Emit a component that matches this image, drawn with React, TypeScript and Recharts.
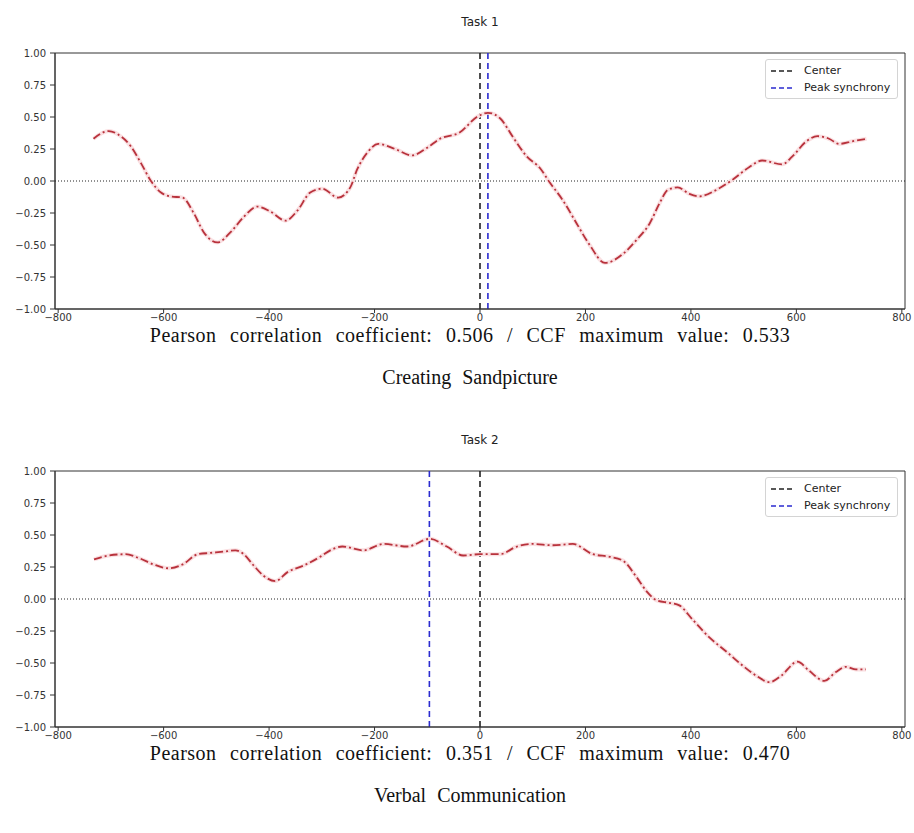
import {
  LineChart,
  Line,
  XAxis,
  YAxis,
  ReferenceLine,
  ReferenceArea,
} from "recharts";

// lag values (frames) and cross-correlation
const lags1 = [
  -733, -704, -685, -662, -643, -624, -605, -587, -564, -543, -524, -498, -473, -448, -422, -397,
  -369, -346, -322, -299, -269, -246, -233, -214, -193, -161, -129, -100, -76, -38, -6, 15, 38, 63,
  89, 114, 132, 157, 183, 208, 237, 271, 297, 322, 341, 356, 375, 397, 416, 448, 479, 511, 535,
  573, 592, 619, 640, 662, 681, 706, 733,
];
const corr1 = [
  0.33, 0.39, 0.36, 0.27, 0.14, 0.0, -0.09, -0.12, -0.13, -0.25, -0.4, -0.48, -0.4, -0.28, -0.2,
  -0.24, -0.31, -0.23, -0.09, -0.06, -0.13, -0.05, 0.09, 0.22, 0.29, 0.25, 0.2, 0.26, 0.33, 0.38,
  0.5, 0.533, 0.49, 0.34, 0.19, 0.1, -0.01, -0.15, -0.33, -0.5, -0.64, -0.57, -0.46, -0.33, -0.17,
  -0.07, -0.05, -0.1, -0.12, -0.07, 0.01, 0.11, 0.16, 0.13, 0.19, 0.31, 0.35, 0.33, 0.29, 0.31,
  0.33,
];

const lags2 = [
  -732, -704, -672, -647, -619, -590, -564, -535, -511, -486, -464, -448, -429, -410, -388, -365,
  -335, -303, -284, -261, -221, -183, -138, -95, -63, -32, 0, 38, 70, 100, 138, 176, 214, 246, 271,
  297, 316, 335, 359, 378, 403, 435, 467, 498, 524, 549, 571, 602, 624, 653, 675, 694, 713, 732,
];
const corr2 = [
  0.31, 0.34, 0.35, 0.32, 0.27, 0.24, 0.27, 0.35, 0.36, 0.37, 0.38, 0.35, 0.26, 0.18, 0.14, 0.21,
  0.26, 0.33, 0.38, 0.41, 0.38, 0.43, 0.41, 0.47, 0.41, 0.34, 0.35, 0.35, 0.41, 0.43, 0.42, 0.43,
  0.35, 0.33, 0.3, 0.17, 0.06, -0.01, -0.03, -0.05, -0.16, -0.3, -0.41, -0.52, -0.6, -0.65, -0.6,
  -0.49, -0.56, -0.64, -0.57, -0.53, -0.55, -0.55,
];

const xTicks = [-800, -600, -400, -200, 0, 200, 400, 600, 800];
const yTicks = [-1, -0.75, -0.5, -0.25, 0, 0.25, 0.5, 0.75, 1];

const legendItems = [
  { label: "Center", color: "#222222" },
  { label: "Peak synchrony", color: "#2b2bd0" },
];

const fmt = (v: number, digits: number) => {
  const s = Math.abs(v).toFixed(digits);
  return v < 0 ? `\u2212${s}` : s;
};

const sans = "'DejaVu Sans', sans-serif";
const serif = "'Liberation Serif', 'Times New Roman', serif";

const LegendBox = () => (
  <div
    style={{
      position: "absolute",
      left: 765,
      top: 59,
      width: 133,
      boxSizing: "border-box",
      border: "1px solid #d4d4d4",
      borderRadius: 3,
      background: "#fff",
      padding: "2px 0 2px 4px",
      fontFamily: sans,
      fontSize: 11,
      color: "#222",
      lineHeight: "17px",
    }}
  >
    {legendItems.map((it) => (
      <div key={it.label} style={{ display: "flex", alignItems: "center" }}>
        <svg width={26} height={6} style={{ marginRight: 8 }}>
          <line x1={1} y1={3} x2={25} y2={3} stroke={it.color} strokeWidth={1.6} strokeDasharray="5 3" />
        </svg>
        {it.label}
      </div>
    ))}
  </div>
);

interface PanelProps {
  top: number;
  title: string;
  lags: number[];
  values: number[];
  peak: number;
  caption: string;
  task: string;
}

const Panel = ({ top, title, lags, values, peak, caption, task }: PanelProps) => {
  const data = lags.map((lag, i) => ({ lag, r: values[i] }));
  return (
    <div style={{ position: "absolute", left: 0, top, width: 914, height: 415 }}>
      <div
        style={{
          position: "absolute",
          left: 480,
          top: 15,
          transform: "translateX(-50%)",
          fontFamily: sans,
          fontSize: 12,
          color: "#222",
          whiteSpace: "nowrap",
        }}
      >
        {title}
      </div>
      <LineChart width={914} height={340} data={data} margin={{ top: 53, right: 9, bottom: 1, left: 10 }}>
        <XAxis
          dataKey="lag"
          type="number"
          domain={[-806, 806]}
          ticks={xTicks}
          tickFormatter={(v: number) => fmt(v, 0)}
          tickSize={4}
          tickMargin={1}
          height={30}
          stroke="#333"
          tick={{ fill: "#333", fontSize: 10, fontFamily: sans }}
          allowDataOverflow
        />
        <YAxis
          type="number"
          domain={[-1, 1]}
          ticks={yTicks}
          tickFormatter={(v: number) => fmt(v, 2)}
          tickSize={5}
          tickMargin={4}
          width={45}
          stroke="#333"
          tick={{ fill: "#333", fontSize: 10, fontFamily: sans }}
          allowDataOverflow
        />
        <ReferenceArea x1={-806} x2={806} y1={-1} y2={1} fill="none" stroke="#333" strokeWidth={1} />
        <ReferenceLine y={0} stroke="#222" strokeWidth={1} strokeDasharray="1 2" />
        <ReferenceLine x={0} stroke="#222" strokeWidth={1.6} strokeDasharray="6 4" />
        <ReferenceLine x={peak} stroke="#2b2bd0" strokeWidth={1.6} strokeDasharray="6 4" />
        <Line
          type="monotone"
          dataKey="r"
          stroke="#fae0e2"
          strokeWidth={4}
          dot={false}
          activeDot={false}
          isAnimationActive={false}
        />
        <Line
          type="monotone"
          dataKey="r"
          stroke="#b8323c"
          strokeWidth={1.8}
          strokeDasharray="8 3 2 3"
          dot={false}
          activeDot={false}
          isAnimationActive={false}
        />
      </LineChart>
      <LegendBox />
      <div
        style={{
          position: "absolute",
          left: 470,
          top: 326,
          transform: "translateX(-50%)",
          fontFamily: serif,
          fontSize: 20,
          lineHeight: "18px",
          wordSpacing: 8,
          letterSpacing: 0.5,
          color: "#111",
          whiteSpace: "nowrap",
        }}
      >
        {caption}
      </div>
      <div
        style={{
          position: "absolute",
          left: 470,
          top: 368,
          transform: "translateX(-50%)",
          fontFamily: serif,
          fontSize: 20,
          lineHeight: "18px",
          wordSpacing: 6,
          color: "#111",
          whiteSpace: "nowrap",
        }}
      >
        {task}
      </div>
    </div>
  );
};

export default function App() {
  return (
    <div
      style={{
        position: "absolute",
        left: 0,
        top: 0,
        width: 914,
        height: 833,
        background: "#fff",
        overflow: "hidden",
      }}
    >
      <Panel
        top={0}
        title="Task 1"
        lags={lags1}
        values={corr1}
        peak={15}
        caption="Pearson correlation coefficient: 0.506 / CCF maximum value: 0.533"
        task="Creating Sandpicture"
      />
      <Panel
        top={418}
        title="Task 2"
        lags={lags2}
        values={corr2}
        peak={-96}
        caption="Pearson correlation coefficient: 0.351 / CCF maximum value: 0.470"
        task="Verbal Communication"
      />
    </div>
  );
}
